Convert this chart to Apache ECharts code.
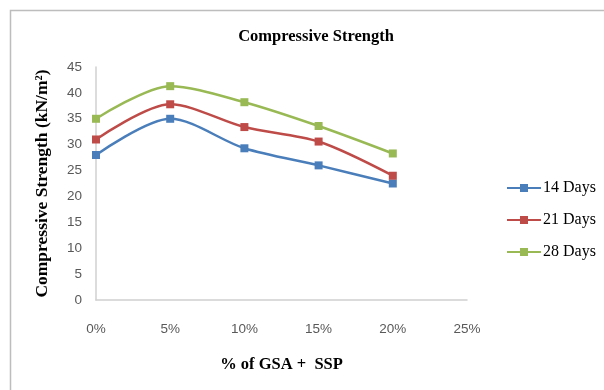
<!DOCTYPE html>
<html>
<head>
<meta charset="utf-8">
<script src="https://cdn.jsdelivr.net/npm/echarts@6/dist/echarts.min.js"></script>
<style>
  html, body { margin: 0; padding: 0; background: #fff; }
  #chart { width: 604px; height: 390px; }
</style>
</head>
<body>
<div id="chart"></div>
<script>
// Mix ratios (x axis) and compressive strength by curing age
const categories = ['0%', '5%', '10%', '15%', '20%', '25%'];
const days14 = [28, 35, 29.3, 26, 22.5];
const days21 = [31, 37.8, 33.4, 30.6, 24];
const days28 = [35, 41.3, 38.2, 33.6, 28.3];
const seriesNames = ['14 Days', '21 Days', '28 Days'];
const seriesColors = ['#4a7ebb', '#be4b48', '#98b954'];

const serif = 'Liberation Serif, Times New Roman, serif';
const sans = 'Liberation Sans, Arial, sans-serif';

const chart = echarts.init(document.getElementById('chart'));

function line(name, data, color) {
  return {
    name: name,
    type: 'line',
    data: data,
    smooth: 0.3,
    symbol: 'rect',
    symbolSize: 8,
    lineStyle: { width: 2.5, color: color },
    itemStyle: { color: color },
    emphasis: { disabled: true }
  };
}

chart.setOption({
  animation: false,
  backgroundColor: '#fff',
  graphic: [{
    type: 'rect',
    shape: { x: 10.5, y: 10.5, width: 620, height: 400 },
    style: { fill: 'none', stroke: '#bdbdbd', lineWidth: 1.5 }
  }],
  title: {
    text: 'Compressive Strength',
    left: 311,
    textAlign: 'center',
    top: 23,
    textStyle: { fontFamily: serif, fontSize: 16.5, fontWeight: 'bold', color: '#000' }
  },
  grid: { left: 96, right: 137, top: 67, bottom: 90 },
  legend: {
    orient: 'vertical',
    left: 501,
    top: 175,
    itemGap: 16,
    itemWidth: 34,
    itemHeight: 10,
    data: seriesNames,
    textStyle: { fontFamily: serif, fontSize: 16, color: '#000', padding: [0, 0, 0, -3] }
  },
  xAxis: {
    type: 'category',
    data: categories,
    boundaryGap: false,
    name: '% of GSA +  SSP',
    nameLocation: 'middle',
    nameGap: 56,
    nameTextStyle: { fontFamily: serif, fontSize: 16.5, fontWeight: 'bold', color: '#000' },
    axisLine: { lineStyle: { color: '#d0d0d0', width: 1.5 } },
    axisTick: { show: false },
    axisLabel: { margin: 22, fontFamily: sans, fontSize: 13.5, color: '#595959' },
    splitLine: { show: false }
  },
  yAxis: {
    type: 'value',
    min: 0,
    max: 45,
    interval: 5,
    name: 'Compressive Strength (kN/m²)',
    nameLocation: 'middle',
    nameGap: 45,
    nameRotate: 90,
    nameTextStyle: { fontFamily: serif, fontSize: 17.5, fontWeight: 'bold', color: '#000' },
    axisLine: { show: true, lineStyle: { color: '#d0d0d0', width: 1.5 } },
    axisTick: { show: false },
    axisLabel: { margin: 14, fontFamily: sans, fontSize: 13.5, color: '#595959' },
    splitLine: { show: false }
  },
  series: [
    line(seriesNames[0], days14, seriesColors[0]),
    line(seriesNames[1], days21, seriesColors[1]),
    line(seriesNames[2], days28, seriesColors[2])
  ]
});
</script>
</body>
</html>
